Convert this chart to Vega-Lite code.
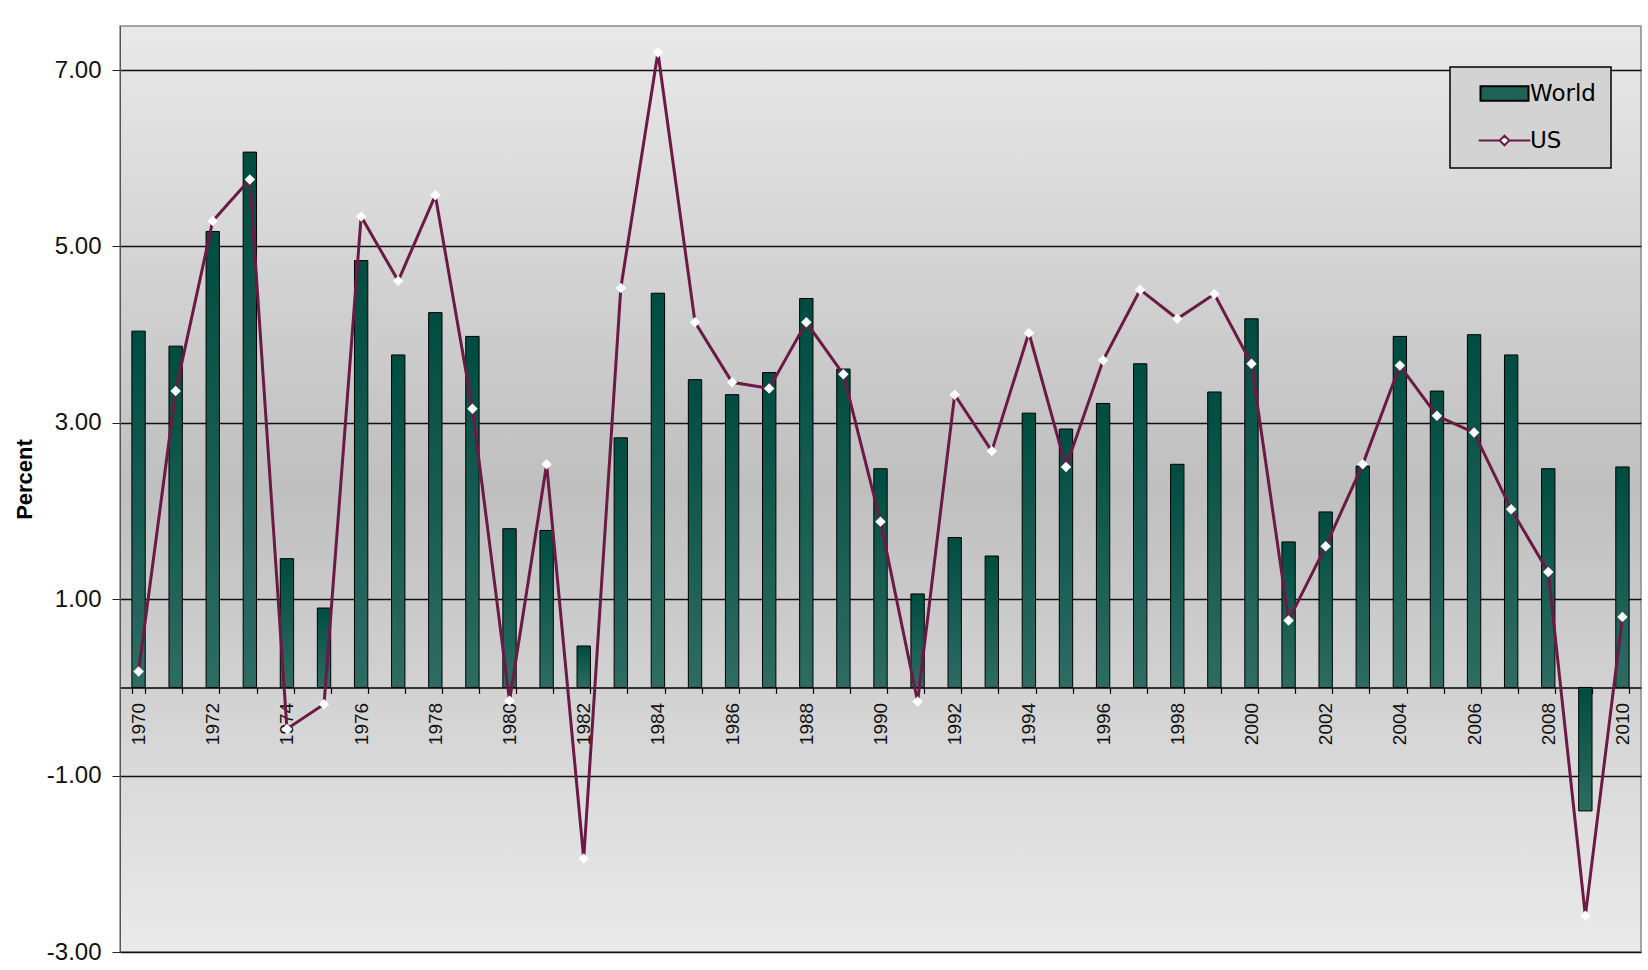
{
  "$schema": "https://vega.github.io/schema/vega-lite/v6.json",
  "width": 1521,
  "height": 926,
  "autosize": {"type": "none"},
  "padding": {"left": 120, "top": 26, "right": 7, "bottom": 18},
  "background": "white",
  "config": {
    "view": {
      "fill": {"gradient": "linear", "x1": 0, "y1": 0, "x2": 0, "y2": 1,
        "stops": [{"offset": 0, "color": "#e9e9e9"}, {"offset": 0.5, "color": "#bfbfbf"}, {"offset": 1, "color": "#eaeaea"}]},
      "stroke": "#8a8a8a",
      "strokeWidth": 1.5
    },
    "axis": {"labelFont": "Liberation Sans", "titleFont": "Liberation Sans", "labelColor": "#111", "titleColor": "#000"},
    "legend": {
      "padding": 15, "strokeColor": "#000", "strokeWidth": 1.5, "fillColor": "#d3d3d3",
      "labelFont": "DejaVu Sans", "labelFontSize": 23, "labelColor": "#000",
      "symbolSize": 144, "symbolStrokeWidth": 2, "symbolOffset": 28, "labelOffset": 14, "rowPadding": 23
    }
  },
  "data": {"values": [
    {"year": 1970, "series": "World", "value": 4.04}, {"year": 1970, "series": "US", "value": 0.18},
    {"year": 1971, "series": "World", "value": 3.87}, {"year": 1971, "series": "US", "value": 3.36},
    {"year": 1972, "series": "World", "value": 5.17}, {"year": 1972, "series": "US", "value": 5.29},
    {"year": 1973, "series": "World", "value": 6.07}, {"year": 1973, "series": "US", "value": 5.76},
    {"year": 1974, "series": "World", "value": 1.46}, {"year": 1974, "series": "US", "value": -0.47},
    {"year": 1975, "series": "World", "value": 0.90}, {"year": 1975, "series": "US", "value": -0.19},
    {"year": 1976, "series": "World", "value": 4.84}, {"year": 1976, "series": "US", "value": 5.34},
    {"year": 1977, "series": "World", "value": 3.77}, {"year": 1977, "series": "US", "value": 4.61},
    {"year": 1978, "series": "World", "value": 4.25}, {"year": 1978, "series": "US", "value": 5.58},
    {"year": 1979, "series": "World", "value": 3.98}, {"year": 1979, "series": "US", "value": 3.16},
    {"year": 1980, "series": "World", "value": 1.80}, {"year": 1980, "series": "US", "value": -0.15},
    {"year": 1981, "series": "World", "value": 1.78}, {"year": 1981, "series": "US", "value": 2.53},
    {"year": 1982, "series": "World", "value": 0.47}, {"year": 1982, "series": "US", "value": -1.94},
    {"year": 1983, "series": "World", "value": 2.83}, {"year": 1983, "series": "US", "value": 4.53},
    {"year": 1984, "series": "World", "value": 4.47}, {"year": 1984, "series": "US", "value": 7.20},
    {"year": 1985, "series": "World", "value": 3.49}, {"year": 1985, "series": "US", "value": 4.14},
    {"year": 1986, "series": "World", "value": 3.32}, {"year": 1986, "series": "US", "value": 3.46},
    {"year": 1987, "series": "World", "value": 3.57}, {"year": 1987, "series": "US", "value": 3.39},
    {"year": 1988, "series": "World", "value": 4.41}, {"year": 1988, "series": "US", "value": 4.14},
    {"year": 1989, "series": "World", "value": 3.61}, {"year": 1989, "series": "US", "value": 3.55},
    {"year": 1990, "series": "World", "value": 2.48}, {"year": 1990, "series": "US", "value": 1.88},
    {"year": 1991, "series": "World", "value": 1.06}, {"year": 1991, "series": "US", "value": -0.16},
    {"year": 1992, "series": "World", "value": 1.70}, {"year": 1992, "series": "US", "value": 3.32},
    {"year": 1993, "series": "World", "value": 1.49}, {"year": 1993, "series": "US", "value": 2.68},
    {"year": 1994, "series": "World", "value": 3.11}, {"year": 1994, "series": "US", "value": 4.02},
    {"year": 1995, "series": "World", "value": 2.93}, {"year": 1995, "series": "US", "value": 2.50},
    {"year": 1996, "series": "World", "value": 3.22}, {"year": 1996, "series": "US", "value": 3.71},
    {"year": 1997, "series": "World", "value": 3.67}, {"year": 1997, "series": "US", "value": 4.51},
    {"year": 1998, "series": "World", "value": 2.53}, {"year": 1998, "series": "US", "value": 4.18},
    {"year": 1999, "series": "World", "value": 3.35}, {"year": 1999, "series": "US", "value": 4.46},
    {"year": 2000, "series": "World", "value": 4.18}, {"year": 2000, "series": "US", "value": 3.67},
    {"year": 2001, "series": "World", "value": 1.65}, {"year": 2001, "series": "US", "value": 0.76},
    {"year": 2002, "series": "World", "value": 1.99}, {"year": 2002, "series": "US", "value": 1.60},
    {"year": 2003, "series": "World", "value": 2.51}, {"year": 2003, "series": "US", "value": 2.53},
    {"year": 2004, "series": "World", "value": 3.98}, {"year": 2004, "series": "US", "value": 3.65},
    {"year": 2005, "series": "World", "value": 3.36}, {"year": 2005, "series": "US", "value": 3.08},
    {"year": 2006, "series": "World", "value": 4.00}, {"year": 2006, "series": "US", "value": 2.89},
    {"year": 2007, "series": "World", "value": 3.77}, {"year": 2007, "series": "US", "value": 2.02},
    {"year": 2008, "series": "World", "value": 2.48}, {"year": 2008, "series": "US", "value": 1.31},
    {"year": 2009, "series": "World", "value": -1.40}, {"year": 2009, "series": "US", "value": -2.59},
    {"year": 2010, "series": "World", "value": 2.50}, {"year": 2010, "series": "US", "value": 0.80}
  ]},
  "encoding": {
    "x": {
      "field": "year", "type": "ordinal",
      "scale": {"paddingInner": 0.64, "paddingOuter": 0.32},
      "axis": {
        "title": null, "labelAngle": -90, "labelOverlap": false,
        "labelExpr": "datum.value % 2 == 0 ? datum.label : ''",
        "tickBand": "extent", "offset": -264.6,
        "domainColor": "#000", "domainWidth": 1.5, "tickColor": "#000", "tickSize": 6, "tickWidth": 1.2,
        "labelFontSize": 19, "labelPadding": 9, "grid": false
      }
    },
    "y": {
      "field": "value", "type": "quantitative",
      "scale": {"domain": [-3, 7.5], "nice": false, "zero": false},
      "axis": {
        "title": "Percent", "values": [-3, -1, 1, 3, 5, 7], "format": ".2f",
        "labelExpr": "replace(datum.label, '\u2212', '-')",
        "grid": true, "gridColor": "#111", "gridWidth": 1.5, "gridOpacity": 1,
        "tickColor": "#222", "tickSize": 8, "labelFontSize": 24, "labelPadding": 11,
        "domain": true, "domainColor": "#555",
        "titleFontSize": 22, "titleFontWeight": "bold",
        "titleX": -96, "titleY": 453, "titleAlign": "center", "titleBaseline": "middle", "titleAngle": 270
      }
    }
  },
  "layer": [
    {
      "transform": [{"filter": "datum.series == 'World'"}],
      "mark": {
        "type": "bar",
        "fill": {"gradient": "linear", "x1": 0, "y1": 0, "x2": 0, "y2": 1,
          "stops": [{"offset": 0, "color": "#004c40"}, {"offset": 1, "color": "#2e6c62"}]},
        "stroke": "#000", "strokeWidth": 1
      }
    },
    {
      "transform": [{"filter": "datum.series == 'US'"}],
      "mark": {"type": "line", "color": "#6a1a44", "strokeWidth": 3}
    },
    {
      "transform": [{"filter": "datum.series == 'US'"}],
      "mark": {"type": "point", "shape": "diamond", "filled": true, "fill": "#ffffff", "strokeWidth": 0, "size": 110, "opacity": 1}
    },
    {
      "transform": [{"filter": "datum.year < 0"}],
      "mark": {"type": "point", "opacity": 1, "filled": false},
      "encoding": {
        "fill": {"field": "series", "type": "nominal",
          "scale": {"domain": ["World", "US"], "range": ["#1f6356", "#ffffff"]},
          "legend": {"title": null, "orient": "none", "legendX": 1330, "legendY": 41}},
        "stroke": {"field": "series", "type": "nominal",
          "scale": {"domain": ["World", "US"], "range": ["#000000", "#6a1a44"]},
          "legend": {"title": null, "orient": "none", "legendX": 1330, "legendY": 41}},
        "shape": {"field": "series", "type": "nominal",
          "scale": {"domain": ["World", "US"], "range": ["M-4,-1.2H4V1.2H-4Z", "M-4.3,0H-0.8M0.8,0H4.3M0,-0.8L0.8,0L0,0.8L-0.8,0Z"]},
          "legend": {"title": null, "orient": "none", "legendX": 1330, "legendY": 41}}
      }
    }
  ]
}
